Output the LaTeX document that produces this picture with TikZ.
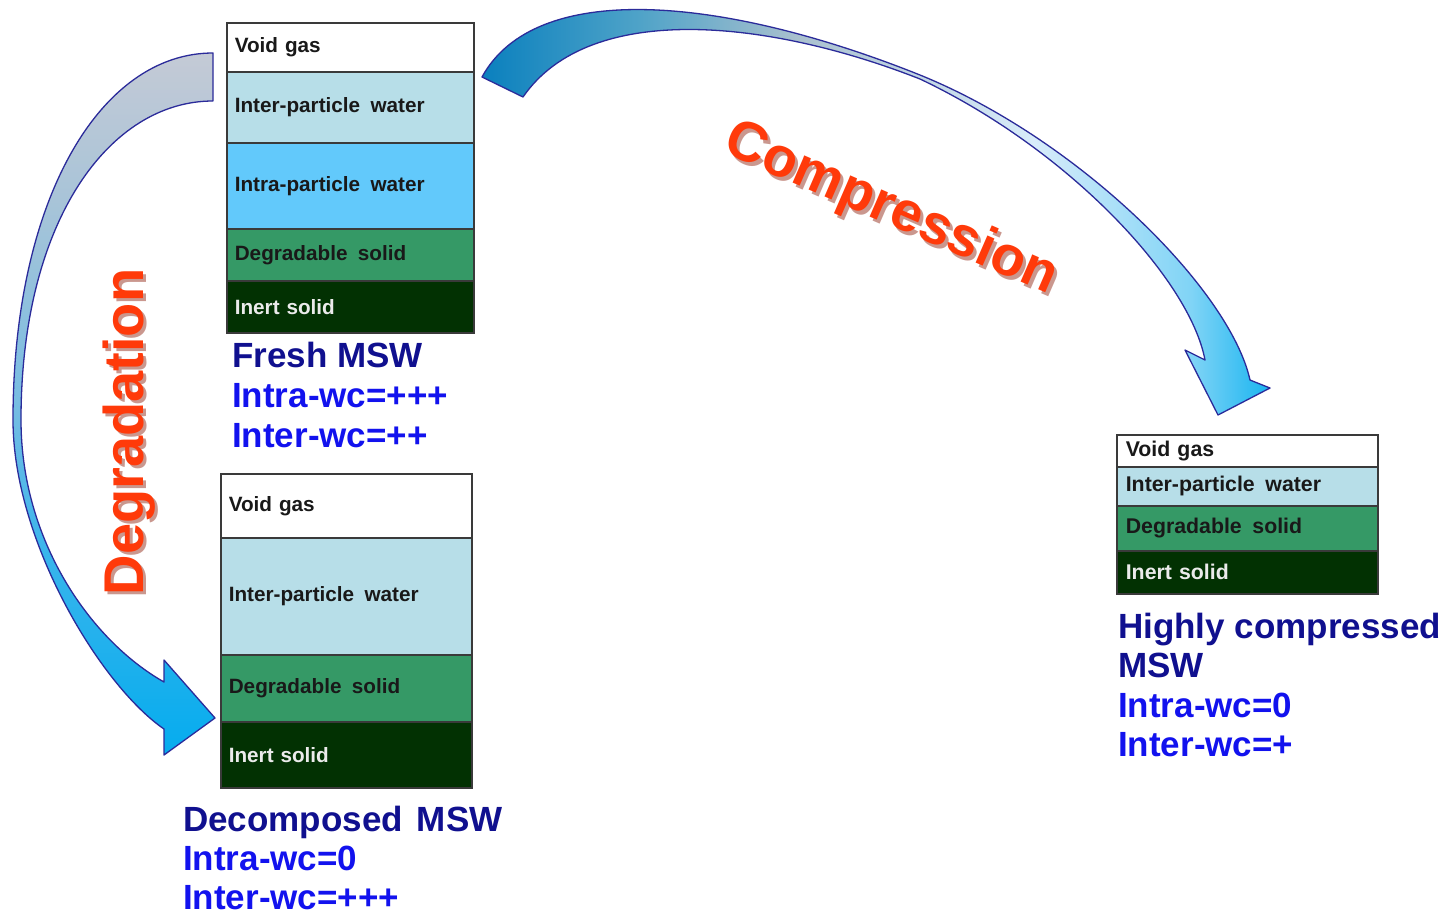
\documentclass[tikz,border=0pt]{standalone}
\usepackage{fontspec}
\setmainfont{Liberation Sans}
\definecolor{interc}{HTML}{B7DEE8}
\definecolor{intrac}{HTML}{62C9FB}
\definecolor{degc}{HTML}{359966}
\definecolor{inertc}{HTML}{023102}
\definecolor{boxline}{HTML}{3A3A3A}
\definecolor{navy}{HTML}{10108F}
\definecolor{brblue}{HTML}{1212EE}
\definecolor{redt}{HTML}{FF3A0A}
\definecolor{redsh}{HTML}{8A1A05}
\definecolor{arrline}{HTML}{2B2B9A}
\definecolor{ca}{HTML}{0A80BE}
\definecolor{cb}{HTML}{4FA3C8}
\definecolor{cc}{HTML}{A9C0CE}
\definecolor{cd}{HTML}{D8ECFA}
\definecolor{ce}{HTML}{80D4F6}
\definecolor{cf}{HTML}{18B4F0}
\definecolor{da}{HTML}{05ACEE}
\definecolor{db}{HTML}{3AB5EC}
\definecolor{dc}{HTML}{78BDE2}
\definecolor{dd}{HTML}{A8C4D8}
\definecolor{de}{HTML}{C4CAD6}
\pgfdeclarehorizontalshading{compsh}{100bp}{color(0bp)=(ca); color(25bp)=(ca); color(35bp)=(cb); color(45bp)=(cc); color(60bp)=(cd); color(70bp)=(ce); color(75bp)=(cf); color(100bp)=(cf)}
\pgfdeclareverticalshading{degsh}{100bp}{color(0bp)=(da); color(25bp)=(da); color(39.6bp)=(db); color(50.3bp)=(dc); color(64.5bp)=(dd); color(75bp)=(de); color(100bp)=(de)}
\tikzset{
  layer/.style={draw=boxline, line width=1.6pt, anchor=north west, inner xsep=8pt, inner ysep=0pt,
    align=left, font=\fontsize{20.7}{24}\selectfont\bfseries, text=black!90},
  title/.style={anchor=north west, inner sep=0pt, align=left, text=brblue,
    font=\fontsize{35}{40}\selectfont\bfseries},
  redlbl/.style={inner sep=0pt, text=redt, font=\fontsize{56}{60}\selectfont\bfseries},
  redshadow/.style={inner sep=0pt, text=redsh, opacity=0.45, font=\fontsize{56}{60}\selectfont\bfseries},
  blockarrow/.style={draw=arrline, line width=1.3pt, line join=round}
}
\begin{document}
\begin{tikzpicture}[x=1pt,y=-1pt]
\useasboundingbox[fill=white] (0,0) rectangle (1445,911);

% Degradation arrow
\path[blockarrow, shading=degsh]
  (213,53) .. controls (100,53) and (13,200) .. (13,420)
  .. controls (13,540) and (100,685) .. (164,729)
  -- (164,755) -- (215,718) -- (164,660) -- (164,682)
  .. controls (90,640) and (21,540) .. (21,420)
  .. controls (21,220) and (110,101) .. (213,101) -- cycle;

% Compression arrow
\path[blockarrow, shading=compsh]
  (482,77) .. controls (535,-20) and (720,-5) .. (920,75)
  .. controls (1080,140) and (1230,290) .. (1250,380)
  -- (1270,388) -- (1218,415) -- (1185,350) -- (1205,360)
  .. controls (1190,280) and (1070,150) .. (920,79)
  .. controls (770,20) and (590,0) .. (523,97) -- cycle;

% Box 1: fresh MSW
\node[layer, fill=white, minimum width=247pt, minimum height=49pt, text width=231pt] (g1) at (226,22) {Void gas};
\node[layer, fill=interc, minimum width=247pt, minimum height=71pt, text width=231pt] (w1) at (226,71) {Inter-particle\hspace{.5em}water};
\node[layer, fill=intrac, minimum width=247pt, minimum height=86pt, text width=231pt] (i1) at (226,142) {Intra-particle\hspace{.5em}water\\[6pt]};
\node[layer, fill=degc, minimum width=247pt, minimum height=52pt, text width=231pt] (d1) at (226,228) {Degradable\hspace{.5em}solid};
\node[layer, fill=inertc, minimum width=247pt, minimum height=52pt, text width=231pt, text=white!92!black] (n1) at (226,280) {Inert solid};

% Box 2: decomposed MSW
\node[layer, fill=white, minimum width=251pt, minimum height=64pt, text width=235pt] (g2) at (220,473) {Void gas};
\node[layer, fill=interc, minimum width=251pt, minimum height=117pt, text width=235pt] (w2) at (220,537) {Inter-particle\hspace{.5em}water};
\node[layer, fill=degc, minimum width=251pt, minimum height=67pt, text width=235pt] (d2) at (220,654) {Degradable\hspace{.5em}solid};
\node[layer, fill=inertc, minimum width=251pt, minimum height=66pt, text width=235pt, text=white!92!black] (n2) at (220,721) {Inert solid};

% Box 3: highly compressed MSW
\node[layer, fill=white, minimum width=261pt, minimum height=32pt, text width=243pt, inner xsep=9pt, font=\fontsize{21.3}{24}\selectfont\bfseries] (g3) at (1116,434) {Void gas};
\node[layer, fill=interc, minimum width=261pt, minimum height=39pt, text width=243pt, inner xsep=9pt, font=\fontsize{21.3}{24}\selectfont\bfseries] (w3) at (1116,466) {Inter-particle\hspace{.5em}water};
\node[layer, fill=degc, minimum width=261pt, minimum height=45pt, text width=243pt, inner xsep=9pt, font=\fontsize{21.3}{24}\selectfont\bfseries] (d3) at (1116,505) {Degradable\hspace{.5em}solid};
\node[layer, fill=inertc, minimum width=261pt, minimum height=43pt, text width=243pt, inner xsep=9pt, font=\fontsize{21.3}{24}\selectfont\bfseries, text=white!92!black] (n3) at (1116,550) {Inert solid};

% Titles
\node[title] (t1) at (232,342) {\textcolor{navy}{Fresh MSW}\\Intra-wc=+++\\Inter-wc=++};
\node[title, font=\fontsize{35}{39}\selectfont\bfseries] (t2) at (183,806) {\textcolor{navy}{Decomposed\hspace{.4em}MSW}\\Intra-wc=0\\Inter-wc=+++};
\node[title, font=\fontsize{35}{39.3}\selectfont\bfseries] (t3) at (1118,613) {\textcolor{navy}{Highly compressed}\\\textcolor{navy}{MSW}\\Intra-wc=0\\Inter-wc=+};

% Red process labels
\node[redshadow, rotate=90] (degs) at (132,435) {Degradation};
\node[redlbl, rotate=90] (deg) at (129,432) {Degradation};
\node[redshadow, rotate=-23.5] (comps) at (894,214) {Compression};
\node[redlbl, rotate=-23.5] (comp) at (891,210) {Compression};
\end{tikzpicture}
\end{document}
